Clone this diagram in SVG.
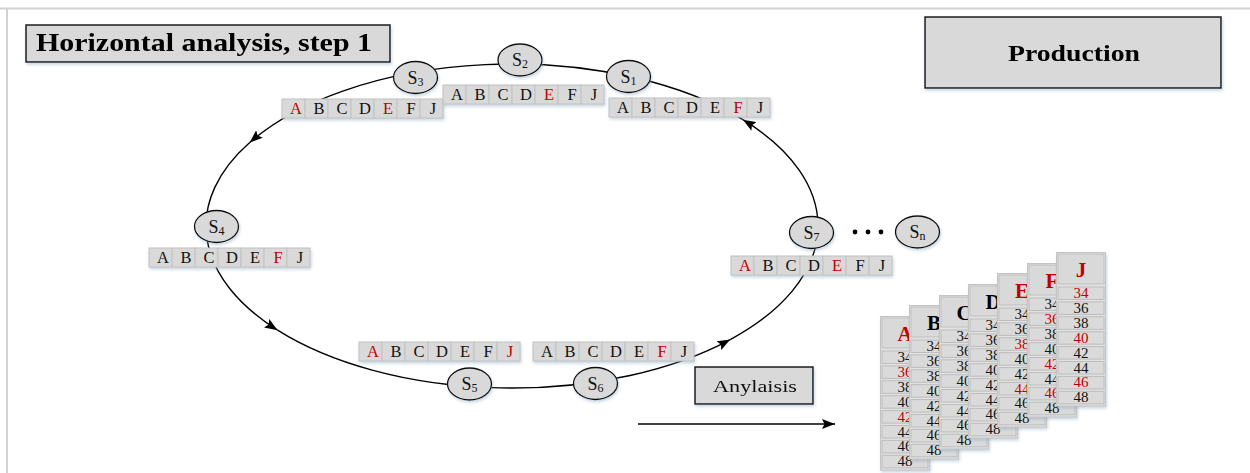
<svg xmlns="http://www.w3.org/2000/svg" width="1250" height="473" viewBox="0 0 1250 473">
<style>
.frame{stroke:#d2d2d2;stroke-width:2;fill:none}
.box{fill:#d9d9d9;stroke:#1a1a1a;stroke-width:1.5}
.node{fill:#d9d9d9;stroke:#111;stroke-width:1.3}
.cell{fill:#d9d9d9;stroke:#c2c2c2;stroke-width:1}
.conn{fill:none;stroke:#000;stroke-width:1.4}
.lt{font-family:"Liberation Serif",serif;font-size:16.5px;text-anchor:middle;fill:#111}
.nl{font-family:"Liberation Serif",serif;font-size:18px;text-anchor:middle;fill:#111}
.sub{font-size:12px}
.title{font-family:"Liberation Serif",serif;font-weight:bold;fill:#000}
.panel{fill:#e2e2e2;stroke:#c4c4c4;stroke-width:1}
.hdr{fill:#d9d9d9;stroke:#c0c0c0;stroke-width:1}
.row{fill:#dadada;stroke:#bcbcbc;stroke-width:1}
.hd{font-family:"Liberation Serif",serif;font-weight:bold;font-size:21px;text-anchor:middle;fill:#000}
.num{font-family:"Liberation Serif",serif;font-size:15px;text-anchor:middle;fill:#111}
text.red{fill:#c00000}
</style>
<defs>
<filter id="sh" x="-20%" y="-20%" width="140%" height="160%">
<feDropShadow dx="1" dy="2" stdDeviation="1.5" flood-color="#8aa4c0" flood-opacity="0.45"/>
</filter>
<marker id="ah" markerWidth="14" markerHeight="10" refX="13" refY="5" orient="auto" markerUnits="userSpaceOnUse">
<path d="M0,0 L13,5 L0,10 L2.5,5 Z" fill="#000"/>
</marker>
<g id="cells7">
<rect class="cell" x="0" y="0" width="23" height="19"/>
<rect class="cell" x="23" y="0" width="23" height="19"/>
<rect class="cell" x="46" y="0" width="23" height="19"/>
<rect class="cell" x="69" y="0" width="23" height="19"/>
<rect class="cell" x="92" y="0" width="23" height="19"/>
<rect class="cell" x="115" y="0" width="23" height="19"/>
<rect class="cell" x="138" y="0" width="23" height="19"/>
</g>
<g id="rows8">
<rect class="row" x="0" y="33" width="46" height="12.5"/>
<rect class="row" x="0" y="47.9" width="46" height="12.5"/>
<rect class="row" x="0" y="62.8" width="46" height="12.5"/>
<rect class="row" x="0" y="77.7" width="46" height="12.5"/>
<rect class="row" x="0" y="92.6" width="46" height="12.5"/>
<rect class="row" x="0" y="107.5" width="46" height="12.5"/>
<rect class="row" x="0" y="122.4" width="46" height="12.5"/>
<rect class="row" x="0" y="137.3" width="46" height="12.5"/>
</g>
</defs>

<rect x="0" y="0" width="1250" height="473" fill="#fff"/>
<path class="frame" d="M0,8.5 H1250 M7,9 V473"/>

<g id="title" filter="url(#sh)">
<rect class="box" x="26" y="25" width="364" height="37"/>
<text class="title" x="36" y="51" font-size="26" textLength="336" lengthAdjust="spacingAndGlyphs">Horizontal analysis, step 1</text>
</g>

<g id="production" filter="url(#sh)">
<rect class="box" x="925" y="17" width="296" height="71"/>
<text class="title" x="1008" y="61" font-size="24" textLength="132" lengthAdjust="spacingAndGlyphs">Production</text>
</g>

<g id="connectors">
<path class="conn" d="M730.25,339.55 A306,162 0 0 0 742.94,119.72" marker-end="url(#ah)"/>
<path class="conn" d="M742.94,119.72 A306,162 0 0 0 249.71,142.56" marker-end="url(#ah)"/>
<path class="conn" d="M249.71,142.56 A306,162 0 0 0 277.59,330.13" marker-end="url(#ah)"/>
<path class="conn" d="M277.59,330.13 A306,162 0 0 0 730.25,339.55" marker-end="url(#ah)"/>
<path class="conn" d="M638,424 H835" marker-end="url(#ah)"/>
</g>

<g id="strip-S3" transform="translate(282,99)">
<use href="#cells7" filter="url(#sh)"/>
<text class="lt red" x="14" y="15">A</text><text class="lt" x="37" y="15">B</text><text class="lt" x="60" y="15">C</text><text class="lt" x="83" y="15">D</text><text class="lt red" x="106" y="15">E</text><text class="lt" x="129" y="15">F</text><text class="lt" x="151" y="15">J</text>
</g>
<g id="strip-S2" transform="translate(443,85)">
<use href="#cells7" filter="url(#sh)"/>
<text class="lt" x="14" y="15">A</text><text class="lt" x="37" y="15">B</text><text class="lt" x="60" y="15">C</text><text class="lt" x="83" y="15">D</text><text class="lt red" x="106" y="15">E</text><text class="lt" x="129" y="15">F</text><text class="lt" x="151" y="15">J</text>
</g>
<g id="strip-S1" transform="translate(609,98)">
<use href="#cells7" filter="url(#sh)"/>
<text class="lt" x="14" y="15">A</text><text class="lt" x="37" y="15">B</text><text class="lt" x="60" y="15">C</text><text class="lt" x="83" y="15">D</text><text class="lt" x="106" y="15">E</text><text class="lt red" x="129" y="15">F</text><text class="lt" x="151" y="15">J</text>
</g>
<g id="strip-S4" transform="translate(149,248)">
<use href="#cells7" filter="url(#sh)"/>
<text class="lt" x="14" y="15">A</text><text class="lt" x="37" y="15">B</text><text class="lt" x="60" y="15">C</text><text class="lt" x="83" y="15">D</text><text class="lt" x="106" y="15">E</text><text class="lt red" x="129" y="15">F</text><text class="lt" x="151" y="15">J</text>
</g>
<g id="strip-S7" transform="translate(731,256)">
<use href="#cells7" filter="url(#sh)"/>
<text class="lt red" x="14" y="15">A</text><text class="lt" x="37" y="15">B</text><text class="lt" x="60" y="15">C</text><text class="lt" x="83" y="15">D</text><text class="lt red" x="106" y="15">E</text><text class="lt" x="129" y="15">F</text><text class="lt" x="151" y="15">J</text>
</g>
<g id="strip-S5" transform="translate(359,342)">
<use href="#cells7" filter="url(#sh)"/>
<text class="lt red" x="14" y="15">A</text><text class="lt" x="37" y="15">B</text><text class="lt" x="60" y="15">C</text><text class="lt" x="83" y="15">D</text><text class="lt" x="106" y="15">E</text><text class="lt" x="129" y="15">F</text><text class="lt red" x="151" y="15">J</text>
</g>
<g id="strip-S6" transform="translate(533,342)">
<use href="#cells7" filter="url(#sh)"/>
<text class="lt" x="14" y="15">A</text><text class="lt" x="37" y="15">B</text><text class="lt" x="60" y="15">C</text><text class="lt" x="83" y="15">D</text><text class="lt" x="106" y="15">E</text><text class="lt red" x="129" y="15">F</text><text class="lt" x="151" y="15">J</text>
</g>

<g id="node-S1"><ellipse class="node" cx="628.5" cy="76.5" rx="22" ry="16" filter="url(#sh)"/><text class="nl" x="628.5" y="82.5">S<tspan class="sub" dy="2">1</tspan></text></g>
<g id="node-S2"><ellipse class="node" cx="520" cy="60" rx="22" ry="16" filter="url(#sh)"/><text class="nl" x="520" y="66">S<tspan class="sub" dy="2">2</tspan></text></g>
<g id="node-S3"><ellipse class="node" cx="415.5" cy="77.5" rx="22" ry="16" filter="url(#sh)"/><text class="nl" x="415.5" y="83.5">S<tspan class="sub" dy="2">3</tspan></text></g>
<g id="node-S4"><ellipse class="node" cx="216.5" cy="226.5" rx="22" ry="16" filter="url(#sh)"/><text class="nl" x="216.5" y="232.5">S<tspan class="sub" dy="2">4</tspan></text></g>
<g id="node-S5"><ellipse class="node" cx="469.5" cy="384" rx="22" ry="16" filter="url(#sh)"/><text class="nl" x="469.5" y="390">S<tspan class="sub" dy="2">5</tspan></text></g>
<g id="node-S6"><ellipse class="node" cx="595.5" cy="383.5" rx="22" ry="16" filter="url(#sh)"/><text class="nl" x="595.5" y="389.5">S<tspan class="sub" dy="2">6</tspan></text></g>
<g id="node-S7"><ellipse class="node" cx="811.5" cy="232.5" rx="22" ry="16" filter="url(#sh)"/><text class="nl" x="811.5" y="238.5">S<tspan class="sub" dy="2">7</tspan></text></g>
<g id="node-Sn"><ellipse class="node" cx="917.5" cy="232" rx="22" ry="16" filter="url(#sh)"/><text class="nl" x="917.5" y="238">S<tspan class="sub" dy="2">n</tspan></text></g>

<g id="dots">
<circle cx="855" cy="232" r="2.4" fill="#000"/>
<circle cx="868" cy="232" r="2.4" fill="#000"/>
<circle cx="881" cy="232" r="2.4" fill="#000"/>
</g>

<g id="analysis" filter="url(#sh)">
<rect class="box" x="695" y="367" width="118" height="37"/>
<text x="713" y="392" font-family="Liberation Serif, serif" font-size="17" fill="#111" textLength="84" lengthAdjust="spacingAndGlyphs">Anylaisis</text>
</g>

<g id="card-A" transform="translate(882,318)">
<rect class="panel" x="-1.5" y="-1.5" width="49" height="153.5" filter="url(#sh)"/>
<rect class="hdr" x="0" y="0" width="46" height="30"/>
<use href="#rows8"/>
<text class="hd red" x="23" y="23">A</text>
<text class="num" x="23" y="44">34</text><text class="num red" x="23" y="58.9">36</text><text class="num" x="23" y="73.8">38</text><text class="num" x="23" y="88.7">40</text><text class="num red" x="23" y="103.6">42</text><text class="num" x="23" y="118.5">44</text><text class="num" x="23" y="133.4">46</text><text class="num" x="23" y="148.3">48</text>
</g>
<g id="card-B" transform="translate(911,307)">
<rect class="panel" x="-1.5" y="-1.5" width="49" height="153.5" filter="url(#sh)"/>
<rect class="hdr" x="0" y="0" width="46" height="30"/>
<use href="#rows8"/>
<text class="hd" x="23" y="23">B</text>
<text class="num" x="23" y="44">34</text><text class="num" x="23" y="58.9">36</text><text class="num" x="23" y="73.8">38</text><text class="num" x="23" y="88.7">40</text><text class="num" x="23" y="103.6">42</text><text class="num" x="23" y="118.5">44</text><text class="num" x="23" y="133.4">46</text><text class="num" x="23" y="148.3">48</text>
</g>
<g id="card-C" transform="translate(941,297)">
<rect class="panel" x="-1.5" y="-1.5" width="49" height="153.5" filter="url(#sh)"/>
<rect class="hdr" x="0" y="0" width="46" height="30"/>
<use href="#rows8"/>
<text class="hd" x="23" y="23">C</text>
<text class="num" x="23" y="44">34</text><text class="num" x="23" y="58.9">36</text><text class="num" x="23" y="73.8">38</text><text class="num" x="23" y="88.7">40</text><text class="num" x="23" y="103.6">42</text><text class="num" x="23" y="118.5">44</text><text class="num" x="23" y="133.4">46</text><text class="num" x="23" y="148.3">48</text>
</g>
<g id="card-D" transform="translate(970,286)">
<rect class="panel" x="-1.5" y="-1.5" width="49" height="153.5" filter="url(#sh)"/>
<rect class="hdr" x="0" y="0" width="46" height="30"/>
<use href="#rows8"/>
<text class="hd" x="23" y="23">D</text>
<text class="num" x="23" y="44">34</text><text class="num" x="23" y="58.9">36</text><text class="num" x="23" y="73.8">38</text><text class="num" x="23" y="88.7">40</text><text class="num" x="23" y="103.6">42</text><text class="num" x="23" y="118.5">44</text><text class="num" x="23" y="133.4">46</text><text class="num" x="23" y="148.3">48</text>
</g>
<g id="card-E" transform="translate(999,275)">
<rect class="panel" x="-1.5" y="-1.5" width="49" height="153.5" filter="url(#sh)"/>
<rect class="hdr" x="0" y="0" width="46" height="30"/>
<use href="#rows8"/>
<text class="hd red" x="23" y="23">E</text>
<text class="num" x="23" y="44">34</text><text class="num" x="23" y="58.9">36</text><text class="num red" x="23" y="73.8">38</text><text class="num" x="23" y="88.7">40</text><text class="num" x="23" y="103.6">42</text><text class="num red" x="23" y="118.5">44</text><text class="num" x="23" y="133.4">46</text><text class="num" x="23" y="148.3">48</text>
</g>
<g id="card-F" transform="translate(1029,265)">
<rect class="panel" x="-1.5" y="-1.5" width="49" height="153.5" filter="url(#sh)"/>
<rect class="hdr" x="0" y="0" width="46" height="30"/>
<use href="#rows8"/>
<text class="hd red" x="23" y="23">F</text>
<text class="num" x="23" y="44">34</text><text class="num red" x="23" y="58.9">36</text><text class="num" x="23" y="73.8">38</text><text class="num" x="23" y="88.7">40</text><text class="num red" x="23" y="103.6">42</text><text class="num" x="23" y="118.5">44</text><text class="num red" x="23" y="133.4">46</text><text class="num" x="23" y="148.3">48</text>
</g>
<g id="card-J" transform="translate(1058,254)">
<rect class="panel" x="-1.5" y="-1.5" width="49" height="153.5" filter="url(#sh)"/>
<rect class="hdr" x="0" y="0" width="46" height="30"/>
<use href="#rows8"/>
<text class="hd red" x="23" y="23">J</text>
<text class="num red" x="23" y="44">34</text><text class="num" x="23" y="58.9">36</text><text class="num" x="23" y="73.8">38</text><text class="num red" x="23" y="88.7">40</text><text class="num" x="23" y="103.6">42</text><text class="num" x="23" y="118.5">44</text><text class="num red" x="23" y="133.4">46</text><text class="num" x="23" y="148.3">48</text>
</g>
</svg>
